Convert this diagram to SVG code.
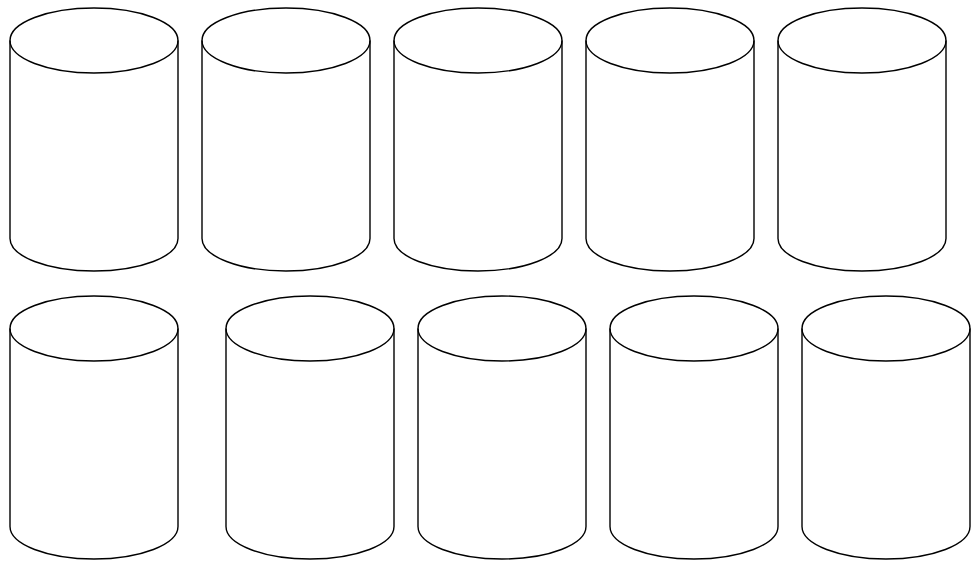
<svg xmlns="http://www.w3.org/2000/svg" width="980" height="565" viewBox="0 0 980 565">
<style>
.c{fill:#fff;stroke:#000;stroke-width:1.4}
.f{fill:none;stroke:#000;stroke-width:1.4}
</style>
<defs>
<g id="cyl1">
<path class="c" d="M0,32.5 A84,32.5 0 0 1 168,32.5 V230.5 A84,32.5 0 0 1 0,230.5 Z"/>
<path class="f" d="M0,32.5 A84,32.5 0 0 0 168,32.5"/>
</g>
</defs>
<rect width="980" height="565" fill="#fff"/>
<g id="cylinder-1"><use href="#cyl1" x="10" y="8"/></g>
<g id="cylinder-2"><use href="#cyl1" x="202" y="8"/></g>
<g id="cylinder-3"><use href="#cyl1" x="394" y="8"/></g>
<g id="cylinder-4"><use href="#cyl1" x="586" y="8"/></g>
<g id="cylinder-5"><use href="#cyl1" x="778" y="8"/></g>
<g id="cylinder-6"><use href="#cyl1" x="10" y="296"/></g>
<g id="cylinder-7"><use href="#cyl1" x="226" y="296"/></g>
<g id="cylinder-8"><use href="#cyl1" x="418" y="296"/></g>
<g id="cylinder-9"><use href="#cyl1" x="610" y="296"/></g>
<g id="cylinder-10"><use href="#cyl1" x="802" y="296"/></g>
<g id="connectors"></g>
</svg>
